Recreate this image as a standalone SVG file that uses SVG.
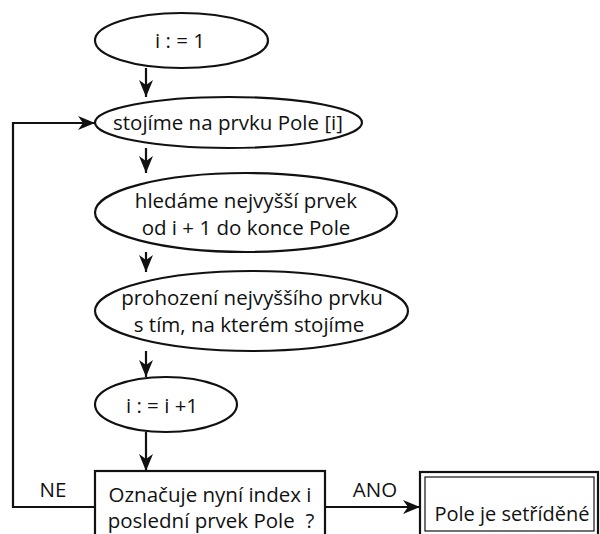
<svg xmlns="http://www.w3.org/2000/svg" width="600" height="534" viewBox="0 0 600 534">
  <style>
    .shape { fill: #fff; stroke: #111; stroke-width: 2.2; }
    .thin { fill: none; stroke: #111; stroke-width: 1.2; }
    .edge { fill: none; stroke: #111; stroke-width: 2.2; marker-end: url(#arrow); }
    text { font-family: "Open Sans", "Noto Sans", "Liberation Sans", sans-serif; font-size: 20.5px; fill: #111; text-anchor: middle; }
    .result { font-size: 20px; }
  </style>
  <defs>
    <marker id="arrow" markerUnits="userSpaceOnUse" markerWidth="18" markerHeight="16" refX="17" refY="7" orient="auto">
      <path d="M0,0 L17,7 L0,14 L5,7 z" fill="#111"/>
    </marker>
  </defs>
  <rect width="600" height="534" fill="#fff"/>

  <g id="connectors">
    <line class="edge" x1="146" y1="68" x2="146" y2="97"/>
    <line class="edge" x1="146" y1="148" x2="146" y2="173"/>
    <line class="edge" x1="146" y1="252" x2="146" y2="272"/>
    <line class="edge" x1="146" y1="351" x2="146" y2="377"/>
    <line class="edge" x1="146" y1="432" x2="146" y2="471"/>
    <!-- NE branch loops back to the top -->
    <polyline class="edge" points="95,507 13,507 13,123 95,123"/>
    <!-- ANO branch -->
    <line class="edge" x1="325" y1="507" x2="420" y2="507"/>
    <text x="53" y="497">NE</text>
    <text x="375" y="497">ANO</text>
  </g>

  <g id="init">
    <ellipse class="shape" cx="181.5" cy="40.5" rx="86.5" ry="27.5"/>
    <text x="180" y="48">i : = 1</text>
  </g>

  <g id="stand">
    <ellipse class="shape" cx="228.5" cy="122.5" rx="133.5" ry="25.5"/>
    <text x="228" y="130">stojíme na prvku Pole [i]</text>
  </g>

  <g id="search">
    <ellipse class="shape" cx="246" cy="212.5" rx="151" ry="39.5"/>
    <text x="246" y="208">hledáme nejvyšší prvek</text>
    <text x="246" y="235">od i + 1 do konce Pole</text>
  </g>

  <g id="swap">
    <ellipse class="shape" cx="251.5" cy="311" rx="156.5" ry="40"/>
    <text x="252" y="305">prohození nejvyššího prvku</text>
    <text x="249" y="332">s tím, na kterém stojíme</text>
  </g>

  <g id="increment">
    <ellipse class="shape" cx="166" cy="404.5" rx="71" ry="27.5"/>
    <text x="162" y="413">i : = i +1</text>
  </g>

  <g id="decision">
    <rect class="shape" x="95" y="471" width="230" height="70"/>
    <text x="210" y="502">Označuje nyní index i</text>
    <text x="211" y="528" xml:space="preserve">poslední prvek Pole  ?</text>
  </g>

  <g id="sorted">
    <rect class="shape" x="420" y="472" width="178" height="70"/>
    <rect class="thin" x="425" y="477" width="169" height="54"/>
    <text class="result" x="512" y="521">Pole je setříděné</text>
  </g>
</svg>
